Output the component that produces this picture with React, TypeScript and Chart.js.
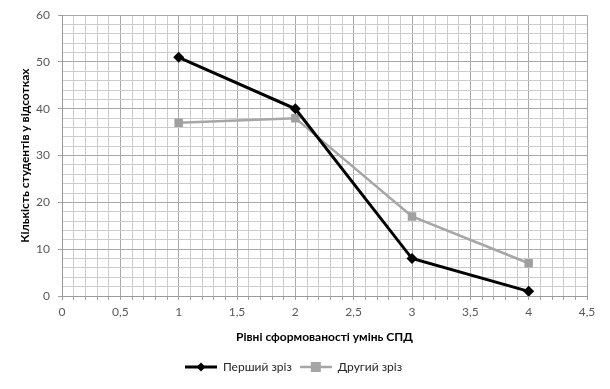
import React, { useEffect, useRef } from "react";
import { Chart, registerables } from "chart.js";

Chart.register(...registerables);

const levels = [1, 2, 3, 4];
const firstSlice = [51, 40, 8, 1];
const secondSlice = [37, 38, 17, 7];
const seriesNames = ["Перший зріз", "Другий зріз"];
const xTitle = "Рівні сформованості умінь СПД";
const yTitle = "Кількість студентів у відсотках";

const FONT = "Lato, 'Noto Sans', 'DejaVu Sans', sans-serif";

function legendIcon(color: string, lineW: number, shape: "diamond" | "square"): HTMLCanvasElement {
  const c = document.createElement("canvas");
  c.width = 32;
  c.height = 12;
  const g = c.getContext("2d")!;
  g.strokeStyle = color;
  g.lineWidth = lineW;
  g.beginPath();
  g.moveTo(0, 6);
  g.lineTo(32, 6);
  g.stroke();
  g.fillStyle = color;
  if (shape === "diamond") {
    g.beginPath();
    g.moveTo(16, 1.5);
    g.lineTo(20.5, 6);
    g.lineTo(16, 10.5);
    g.lineTo(11.5, 6);
    g.closePath();
    g.fill();
  } else {
    g.fillRect(11, 1, 10, 10);
  }
  return c;
}

export default function App() {
  const ref = useRef<HTMLCanvasElement | null>(null);

  useEffect(() => {
    if (!ref.current) return;
    const icons = [legendIcon("#000000", 3, "diamond"), legendIcon("#a6a6a6", 2.5, "square")];
    const chart = new Chart(ref.current, {
      type: "line",
      data: {
        datasets: [
          {
            label: seriesNames[0],
            data: levels.map((x, i) => ({ x, y: firstSlice[i] })),
            borderColor: "#000000",
            backgroundColor: "#000000",
            borderWidth: 3,
            pointStyle: "rectRot",
            pointRadius: 5.5,
            pointBorderWidth: 0,
            tension: 0,
          },
          {
            label: seriesNames[1],
            data: levels.map((x, i) => ({ x, y: secondSlice[i] })),
            borderColor: "#a6a6a6",
            backgroundColor: "#a0a0a0",
            borderWidth: 2.5,
            pointStyle: "rect",
            pointRadius: 6,
            pointBorderWidth: 0,
            tension: 0,
          },
        ],
      },
      options: {
        responsive: false,
        animation: false,
        layout: { padding: { top: 14, right: 23, bottom: 6, left: 0 } },
        plugins: {
          tooltip: { enabled: false },
          legend: {
            position: "bottom",
            labels: {
              usePointStyle: true,
              pointStyleWidth: 32,
              boxHeight: 12,
              color: "#262626",
              font: { family: FONT, size: 12 },
              padding: 8,
              generateLabels: (ch: any) =>
                ch.data.datasets.map((ds: any, i: number) => ({
                  text: ds.label,
                  pointStyle: icons[i],
                  fillStyle: ds.borderColor,
                  strokeStyle: ds.borderColor,
                  lineWidth: 0,
                  hidden: false,
                  datasetIndex: i,
                  fontColor: "#262626",
                })),
            },
          },
        },
        scales: {
          x: {
            type: "linear",
            min: 0,
            max: 4.5,
            afterFit: (s: any) => {
              s.height = 57;
              s.paddingRight = 0;
            },
            ticks: {
              stepSize: 0.1,
              autoSkip: false,
              maxRotation: 0,
              minRotation: 0,
              padding: 5,
              color: "#595959",
              font: { family: FONT, size: 12 },
              callback: (v: any) => {
                const t = Math.round(Number(v) * 10);
                if (t % 5 !== 0) return "";
                return String(t / 10).replace(".", ",");
              },
            },
            grid: {
              color: (c: any) => {
                const t = Math.round(c.tick.value * 10);
                return t % 5 === 0 ? "#a8a8a8" : "#cccccc";
              },
              tickLength: 4,
              tickColor: "#a0a0a0",
            },
            border: { color: "#9a9a9a", width: 1 },
            title: {
              display: true,
              text: xTitle,
              color: "#000000",
              font: { family: FONT, size: 12, weight: "bold" },
              padding: { top: 0, bottom: 9 },
            },
          },
          y: {
            type: "linear",
            min: 0,
            max: 60,
            afterFit: (s: any) => {
              s.width = 62;
            },
            ticks: {
              stepSize: 2,
              autoSkip: false,
              padding: 8,
              color: "#595959",
              font: { family: FONT, size: 12 },
              callback: (v: any) => (Math.round(Number(v)) % 10 === 0 ? String(v) : ""),
            },
            grid: {
              color: (c: any) => (Math.round(c.tick.value) % 10 === 0 ? "#a8a8a8" : "#cccccc"),
              tickLength: 4,
              tickColor: (c: any) => (Math.round(c.tick.value) % 10 === 0 ? "#a0a0a0" : "rgba(0,0,0,0)"),
            },
            border: { color: "#9a9a9a", width: 1 },
            title: {
              display: true,
              text: yTitle,
              color: "#000000",
              font: { family: FONT, size: 12, weight: "bold" },
              padding: { top: 18, bottom: 0 },
            },
          },
        },
      },
    } as any);
    return () => chart.destroy();
  }, []);

  return (
    <div style={{ position: "fixed", left: 0, top: 0, width: 610, height: 389, background: "#ffffff" }}>
      <canvas ref={ref} width={610} height={389} />
    </div>
  );
}
